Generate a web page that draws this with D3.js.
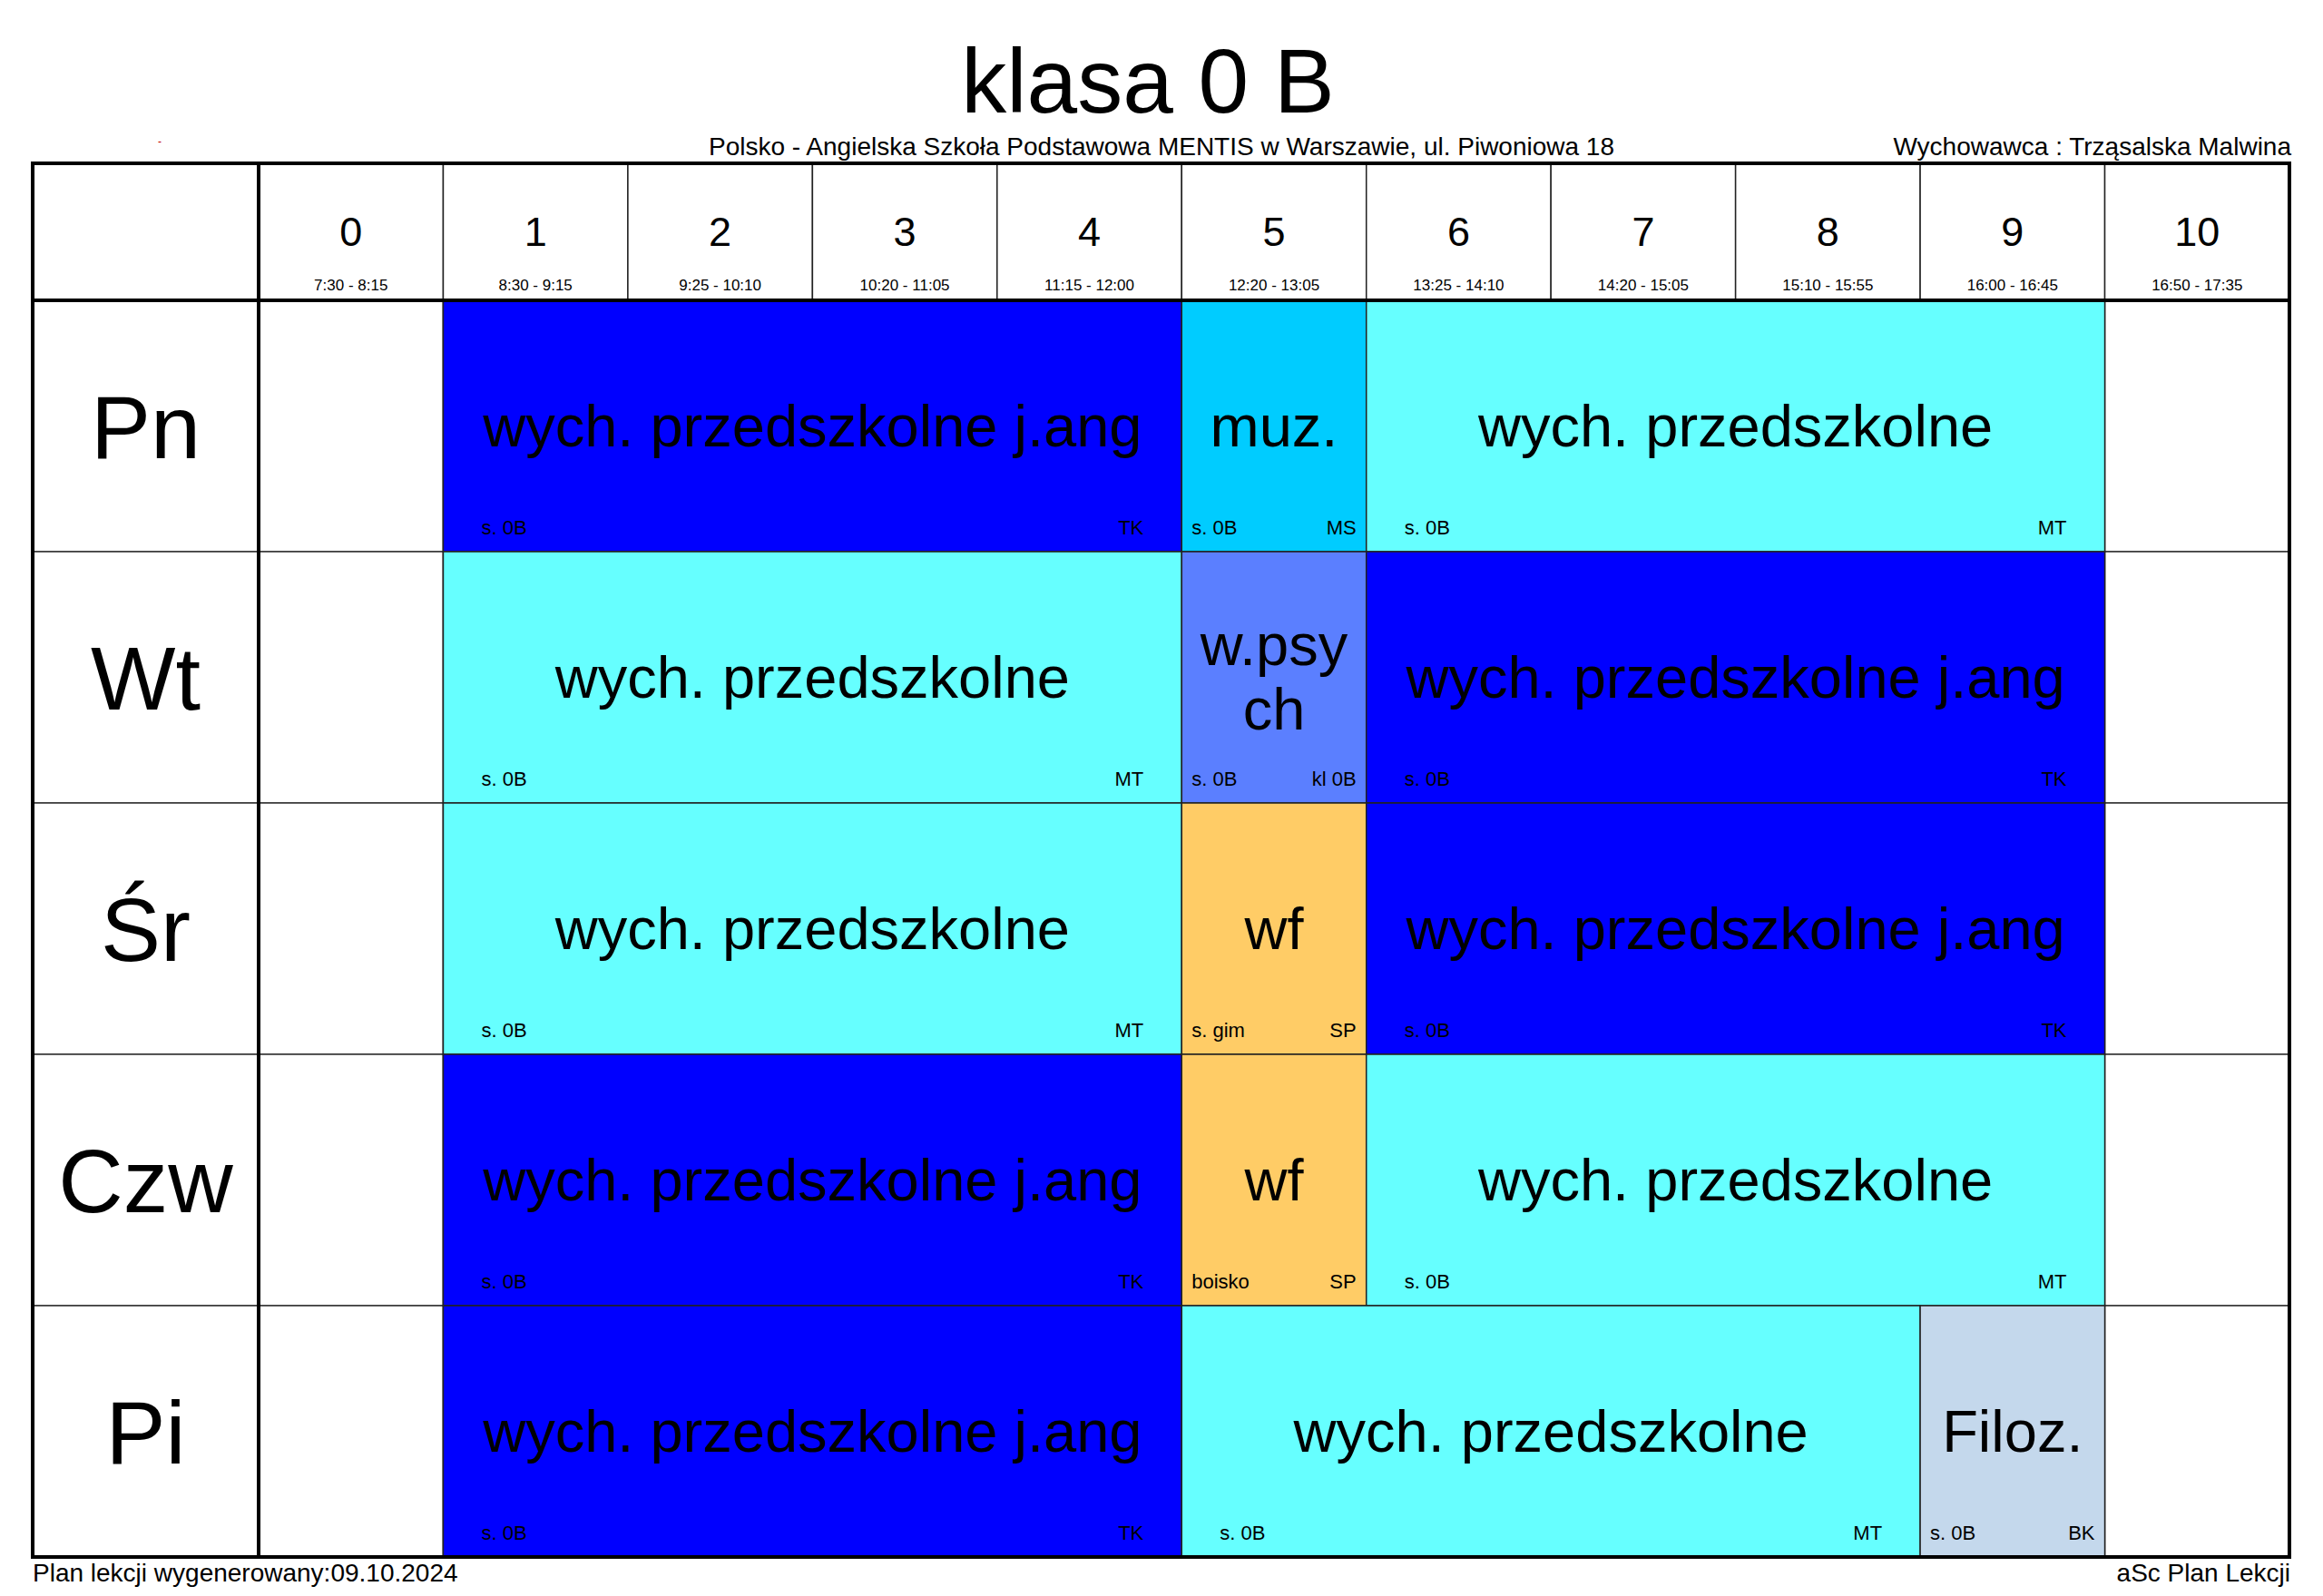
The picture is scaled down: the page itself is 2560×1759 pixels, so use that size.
<!DOCTYPE html>
<html>
<head>
<meta charset="utf-8">
<script src="https://cdn.jsdelivr.net/npm/d3@7"></script>
<style>
  html, body { margin: 0; padding: 0; background: #fff; }
  svg { display: block; }
  text { font-family: "Liberation Sans", Arial, sans-serif; fill: #000; }
</style>
</head>
<body>
<div id="chart"></div>
<script>
// ---- data ----
const title = "klasa 0 B";
const school = "Polsko - Angielska Szkoła Podstawowa MENTIS w Warszawie, ul. Piwoniowa 18";
const teacherLabel = "Wychowawca : Trząsalska Malwina";
const footerLeft = "Plan lekcji wygenerowany:09.10.2024";
const footerRight = "aSc Plan Lekcji";

const days = ["Pn", "Wt", "Śr", "Czw", "Pi"];
const periods = ["0", "1", "2", "3", "4", "5", "6", "7", "8", "9", "10"];
const times = ["7:30 - 8:15", "8:30 - 9:15", "9:25 - 10:10", "10:20 - 11:05", "11:15 - 12:00",
               "12:20 - 13:05", "13:25 - 14:10", "14:20 - 15:05", "15:10 - 15:55", "16:00 - 16:45", "16:50 - 17:35"];

// lessons
const lessonDay     = ["Pn", "Pn", "Pn", "Wt", "Wt", "Wt", "Śr", "Śr", "Śr", "Czw", "Czw", "Czw", "Pi", "Pi", "Pi"];
const lessonStart   = [1, 5, 6, 1, 5, 6, 1, 5, 6, 1, 5, 6, 1, 5, 9];
const lessonSpan    = [4, 1, 4, 4, 1, 4, 4, 1, 4, 4, 1, 4, 4, 4, 1];
const lessonSubject = [
  ["wych. przedszkolne j.ang"], ["muz."], ["wych. przedszkolne"],
  ["wych. przedszkolne"], ["w.psy", "ch"], ["wych. przedszkolne j.ang"],
  ["wych. przedszkolne"], ["wf"], ["wych. przedszkolne j.ang"],
  ["wych. przedszkolne j.ang"], ["wf"], ["wych. przedszkolne"],
  ["wych. przedszkolne j.ang"], ["wych. przedszkolne"], ["Filoz."]
];
const lessonRoom    = ["s. 0B", "s. 0B", "s. 0B", "s. 0B", "s. 0B", "s. 0B", "s. 0B", "s. gim", "s. 0B",
                       "s. 0B", "boisko", "s. 0B", "s. 0B", "s. 0B", "s. 0B"];
const lessonTeacher = ["TK", "MS", "MT", "MT", "kl 0B", "TK", "MT", "SP", "TK", "TK", "SP", "MT", "TK", "MT", "BK"];
const subjectColor = {
  "wych. przedszkolne j.ang": "#0000ff",
  "wych. przedszkolne": "#66ffff",
  "muz.": "#00ccff",
  "w.psych": "#5b7fff",
  "wf": "#ffcc66",
  "Filoz.": "#c4d8ec"
};

// ---- layout ----
const W = 2560, H = 1759;
const gLeft = 36, gRight = 2523, gTop = 180, headBottom = 331, gBottom = 1716, dayColRight = 285;

const svg = d3.select("#chart").append("svg").attr("width", W).attr("height", H);
svg.append("rect").attr("width", W).attr("height", H).attr("fill", "#fff");

const x = d3.scaleBand().domain(periods).range([dayColRight, gRight]).paddingInner(0).paddingOuter(0);
const y = d3.scaleBand().domain(days).range([headBottom, gBottom]);
const cw = x.bandwidth();

// title
svg.append("text").attr("x", 1265).attr("y", 124).attr("text-anchor", "middle")
  .attr("font-size", 100).text(title);
svg.append("text").attr("x", 1280).attr("y", 171).attr("text-anchor", "middle")
  .attr("font-size", 28).text(school);
svg.append("text").attr("x", gRight + 2).attr("y", 171).attr("text-anchor", "end")
  .attr("font-size", 28).text(teacherLabel);
svg.append("text").attr("x", 176).attr("y", 160).attr("text-anchor", "middle")
  .attr("font-size", 12).style("fill", "#c00000").text("-");

// empty grid cells (thin)
const grid = svg.append("g");
periods.forEach(p => {
  grid.append("rect").attr("x", x(p)).attr("y", gTop).attr("width", cw).attr("height", headBottom - gTop)
    .attr("fill", "#fff").attr("stroke", "#222").attr("stroke-width", 1.5);
  days.forEach(d => {
    grid.append("rect").attr("x", x(p)).attr("y", y(d)).attr("width", cw).attr("height", y.bandwidth())
      .attr("fill", "#fff").attr("stroke", "#333").attr("stroke-width", 1.5);
  });
});
days.forEach(d => {
  grid.append("rect").attr("x", gLeft).attr("y", y(d)).attr("width", dayColRight - gLeft).attr("height", y.bandwidth())
    .attr("fill", "#fff").attr("stroke", "#333").attr("stroke-width", 1.5);
});

// header labels
const head = svg.append("g");
head.selectAll("text.num").data(periods).join("text")
  .attr("x", p => x(p) + cw / 2).attr("y", 271).attr("text-anchor", "middle")
  .attr("font-size", 45).text(p => p);
head.selectAll("text.time").data(periods).join("text")
  .attr("x", p => x(p) + cw / 2).attr("y", 320).attr("text-anchor", "middle")
  .attr("font-size", 17).text((p, i) => times[i]);

// day labels
svg.selectAll("text.day").data(days).join("text")
  .attr("x", (gLeft + dayColRight) / 2).attr("y", d => y(d) + y.bandwidth() / 2 + 35)
  .attr("text-anchor", "middle").attr("font-size", 99).text(d => d);

// lessons
const lessons = lessonDay.map((d, i) => ({
  day: d, start: lessonStart[i], span: lessonSpan[i], lines: lessonSubject[i],
  room: lessonRoom[i], teacher: lessonTeacher[i]
}));
const lg = svg.append("g");
lessons.forEach(l => {
  const x0 = x(periods[l.start]);
  const x1 = x(periods[l.start + l.span - 1]) + cw;
  const y0 = y(l.day), h = y.bandwidth();
  const key = l.lines.join("");
  const g = lg.append("g");
  g.append("rect").attr("x", x0).attr("y", y0).attr("width", x1 - x0).attr("height", h)
    .attr("fill", subjectColor[key]).attr("stroke", "#222").attr("stroke-width", 1.5);
  const cy = y0 + h / 2 + 22;
  const lh = 71;
  l.lines.forEach((t, k) => {
    g.append("text").attr("x", (x0 + x1) / 2)
      .attr("y", cy + (k - (l.lines.length - 1) / 2) * lh)
      .attr("text-anchor", "middle").attr("font-size", 65).text(t);
  });
  const pad = l.span > 1 ? 42 : 11;
  g.append("text").attr("x", x0 + pad).attr("y", y0 + h - 19).attr("font-size", 22).text(l.room);
  g.append("text").attr("x", x1 - pad).attr("y", y0 + h - 19).attr("text-anchor", "end")
    .attr("font-size", 22).text(l.teacher);
});

// thick lines
const thick = svg.append("g").attr("stroke", "#000").attr("stroke-width", 4).attr("fill", "none");
thick.append("rect").attr("x", gLeft).attr("y", gTop).attr("width", gRight - gLeft).attr("height", gBottom - gTop);
thick.append("line").attr("x1", gLeft).attr("x2", gRight).attr("y1", headBottom).attr("y2", headBottom);
thick.append("line").attr("x1", dayColRight).attr("x2", dayColRight).attr("y1", gTop).attr("y2", gBottom);

// footer
svg.append("text").attr("x", gLeft).attr("y", 1743).attr("font-size", 28).text(footerLeft);
svg.append("text").attr("x", gRight + 1).attr("y", 1743).attr("text-anchor", "end").attr("font-size", 28).text(footerRight);
</script>
</body>
</html>
